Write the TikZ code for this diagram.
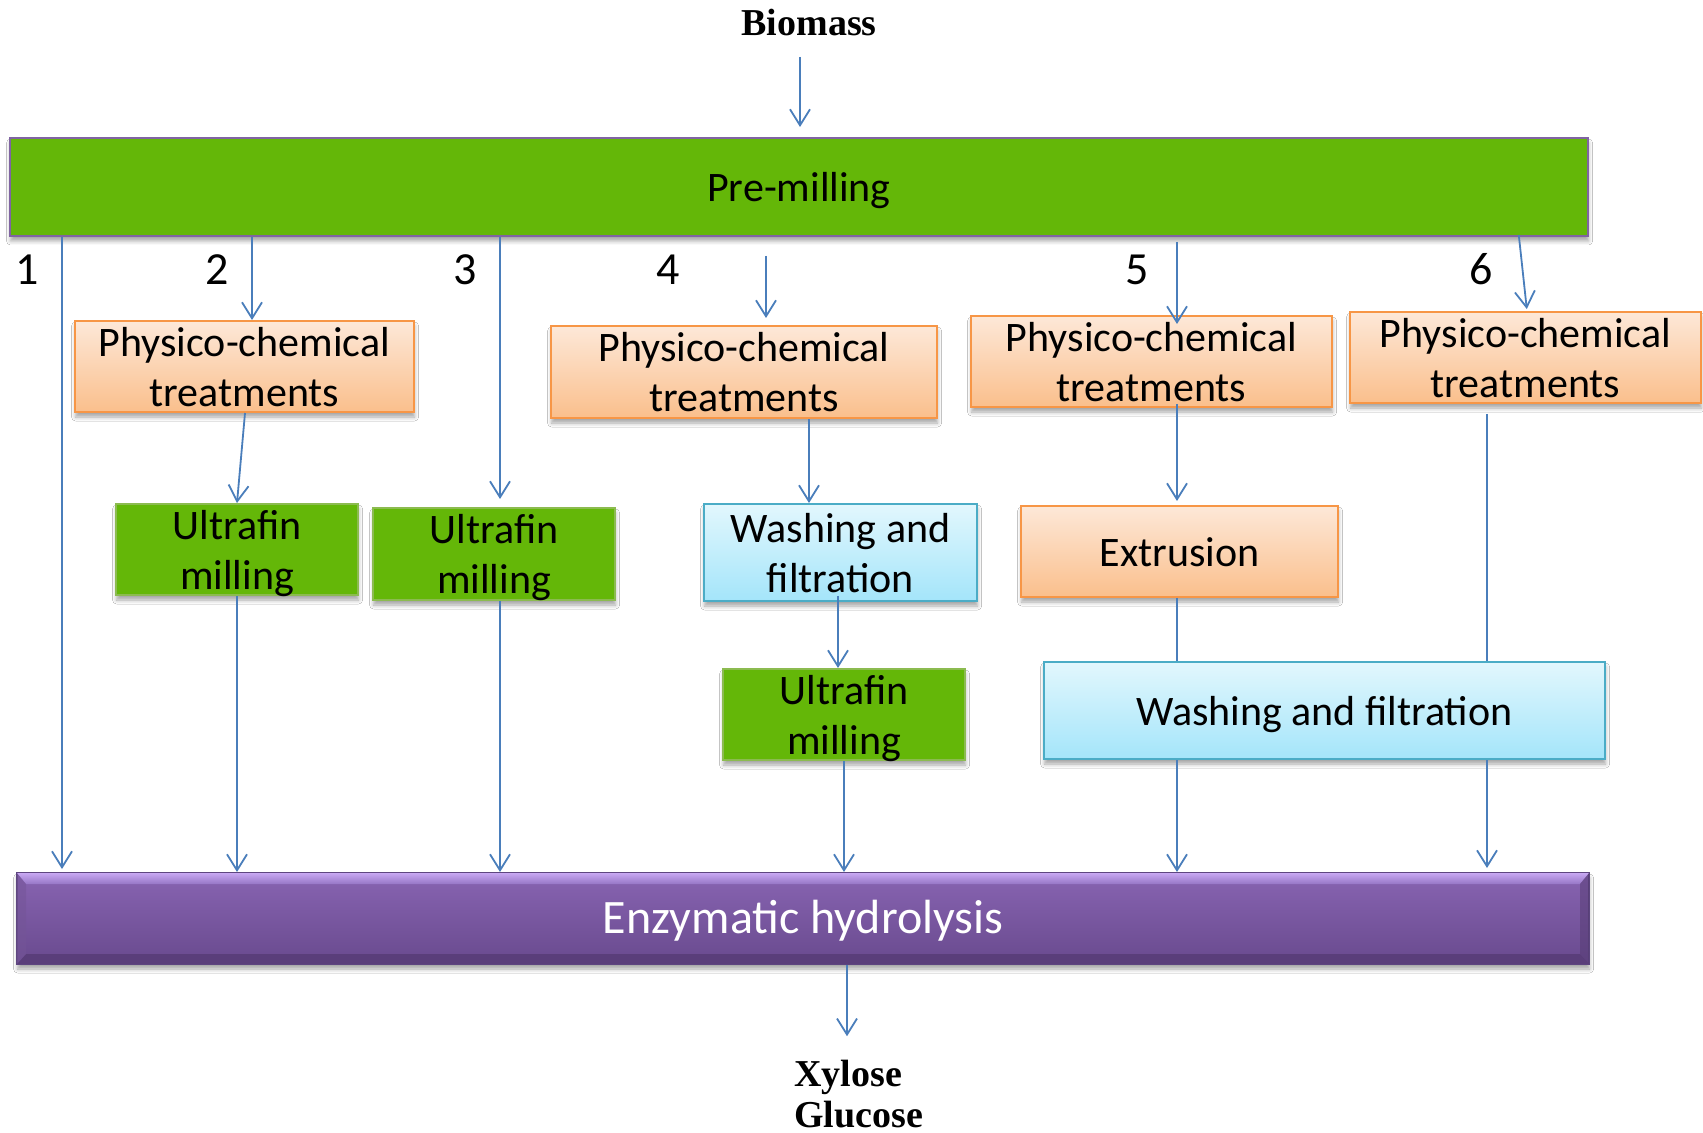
\documentclass[tikz,border=0pt]{standalone}
\usepackage{fontspec}
\setmainfont{Carlito}
\newfontfamily\labelserif{Liberation Serif}
\usetikzlibrary{arrows.meta,shadows.blur,calc}

\definecolor{flowblue}{HTML}{4A7EBB}
\definecolor{millgreen}{HTML}{64B708}
\definecolor{millgreenborder}{HTML}{8CBB50}
\definecolor{premillborder}{HTML}{8064A2}
\definecolor{orangetop}{HTML}{FDE8D8}
\definecolor{orangebottom}{HTML}{FABF8C}
\definecolor{orangeborder}{HTML}{F79646}
\definecolor{bluetop}{HTML}{E2F7FD}
\definecolor{bluebottom}{HTML}{A4E5FA}
\definecolor{blueborder}{HTML}{4BACC6}
\definecolor{hydrotop}{HTML}{8864B2}
\definecolor{hydrobottom}{HTML}{694A8E}
\definecolor{hydroborder}{HTML}{5E4680}
\definecolor{bevellight}{HTML}{C8A8F2}
\definecolor{bevelmid}{HTML}{9676C6}
\definecolor{beveldark}{HTML}{5A3E7A}

% struts fixing the height of the first line and the depth of the last one
\newcommand{\firststrut}{\rule{0pt}{19.5pt}}
\newcommand{\laststrut}{\rule[-4.5pt]{0pt}{0pt}}
\newcommand{\boxtext}[1]{\firststrut#1\laststrut}
\newcommand{\twolines}[2]{\firststrut#1\\#2\laststrut}

\begin{document}
\begin{tikzpicture}[x=0.5pt,y=-0.5pt,
  boxbase/.style={draw, line width=1pt, inner xsep=0pt, inner ysep=-3pt, align=center,
    font=\fontsize{21}{25}\selectfont,
    blur shadow={shadow xshift=0.3pt, shadow yshift=-2.5pt,
      shadow blur radius=2pt, shadow opacity=35}},
  greenbox/.style={boxbase, fill=millgreen, draw=millgreenborder},
  orangebox/.style={boxbase, draw=orangeborder, top color=orangetop, bottom color=orangebottom},
  bluebox/.style={boxbase, draw=blueborder, top color=bluetop, bottom color=bluebottom},
  flow/.style={draw=flowblue, line width=0.9pt},
  flowarrow/.style={flow, -{Straight Barb[length=8pt,width=10pt]}},
  serifbold/.style={inner sep=0pt, font=\labelserif\bfseries\fontsize{19}{23}\selectfont},
  routenum/.style={inner sep=0pt, anchor=base, font=\fontsize{23}{28}\selectfont}
]
\fill[white] (0,0) rectangle (1703,1133);
\useasboundingbox (0,0) rectangle (1703,1133);

% input and output labels
\node[serifbold, anchor=base] (biomass) at (809,36) {Biomass};
\node[serifbold, anchor=base west] (xylose) at (794,1086) {Xylose};
\node[serifbold, anchor=base west] (glucose) at (794,1127) {Glucose};

% common first and last stages
\node[boxbase, fill=millgreen, draw=premillborder, minimum width=789pt, minimum height=49pt]
  (premill) at (799,187) {\boxtext{Pre-milling}};
\node[boxbase, draw=hydroborder, top color=hydrotop, bottom color=hydrobottom,
  minimum width=786pt, minimum height=45.5pt]
  (eh) at (803,918.5) {};
% bevel of the hydrolysis bar
\shade[top color=bevellight, bottom color=bevelmid] (17,873) -- (1589,873) -- (1580,884) -- (26,884) -- cycle;
\fill[beveldark] (26,954) -- (1580,954) -- (1589,964) -- (17,964) -- cycle;
\fill[hydrotop!85!black, opacity=0.5] (17,873) -- (26,884) -- (26,954) -- (17,964) -- cycle;
\fill[hydrobottom!80!black, opacity=0.5] (1589,873) -- (1580,884) -- (1580,954) -- (1589,964) -- cycle;
\node[text=white, font=\fontsize{24}{28}\selectfont, inner sep=0pt]
  (ehtext) at (eh.center) {\boxtext{Enzymatic hydrolysis}};

% route numbers
\node[routenum] (n1) at (27,285) {1};
\node[routenum] (n2) at (217,285) {2};
\node[routenum] (n3) at (465,285) {3};
\node[routenum] (n4) at (668,285) {4};
\node[routenum] (n5) at (1137,285) {5};
\node[routenum] (n6) at (1481,285) {6};

% route 2
\node[orangebox, minimum width=169.5pt, minimum height=45.5pt] (pc2) at (244.5,366.5) {\twolines{Physico-chemical}{treatments}};
\node[greenbox, minimum width=121pt, minimum height=45.5pt] (uf2) at (237,549.5) {\twolines{Ultrafin}{milling}};
% route 3
\node[greenbox, minimum width=121pt, minimum height=46pt] (uf3) at (494,554) {\twolines{Ultrafin}{milling}};
% route 4
\node[orangebox, minimum width=193pt, minimum height=46pt] (pc4) at (744,372) {\twolines{Physico-chemical}{treatments}};
\node[bluebox, minimum width=136.5pt, minimum height=48.5pt] (wf4) at (840.5,552.5) {\twolines{Washing and}{filtration}};
\node[greenbox, minimum width=121pt, minimum height=45.5pt] (uf4) at (844,714.5) {\twolines{Ultrafin}{milling}};
% route 5
\node[orangebox, minimum width=180.5pt, minimum height=45.5pt] (pc5) at (1151.5,361.5) {\twolines{Physico-chemical}{treatments}};
\node[orangebox, minimum width=158.5pt, minimum height=45.5pt] (ex) at (1179.5,551.5) {\boxtext{Extrusion}};
% route 6
\node[orangebox, minimum width=175.5pt, minimum height=45.5pt] (pc6) at (1525.5,357.5) {\twolines{Physico-chemical}{treatments}};
% shared by routes 5 and 6
\node[bluebox, minimum width=280.5pt, minimum height=48.5pt] (wfb) at (1324.5,710.5) {\boxtext{Washing and filtration}};

% connectors
\draw[flowarrow, shorten <=10pt, shorten >=5pt] (biomass.south -| 800,0) -- (premill.north -| 800,0);
\draw[flowarrow, shorten >=1.5pt] (premill.south -| 62,0) -- (eh.north -| 62,0);

\draw[flowarrow] (premill.south -| 252,0) -- (pc2.north -| 252,0);
\draw[flowarrow] (pc2.south -| 245,0) -- (uf2.north -| 237,0);
\draw[flowarrow] (uf2.south) -- (eh.north -| uf2.south);

\draw[flowarrow, shorten >=4pt] (premill.south -| 500,0) -- (uf3.north -| 500,0);
\draw[flowarrow] (uf3.south -| 500,0) -- (eh.north -| 500,0);

\draw[flowarrow, shorten <=9.5pt, shorten >=3.5pt] (premill.south -| 766,0) -- (pc4.north -| 766,0);
\draw[flowarrow] (pc4.south -| 809,0) -- (wf4.north -| 809,0);
\draw[flowarrow, shorten <=-3pt] (wf4.south -| 838,0) -- (uf4.north -| 838,0);
\draw[flowarrow] (uf4.south) -- (eh.north -| uf4.south);

\draw[flowarrow, shorten <=2.5pt, shorten >=-4.5pt] (premill.south -| 1177,0) -- (pc5.north -| 1177,0);
\draw[flowarrow, shorten <=-2pt, shorten >=2pt] (pc5.south -| 1177,0) -- (ex.north -| 1177,0);
\draw[flow] (ex.south -| 1177,0) -- (wfb.north -| 1177,0);
\draw[flowarrow] (wfb.south -| 1177,0) -- (eh.north -| 1177,0);

\draw[flowarrow, shorten <=-1pt, shorten >=1pt] (premill.south -| 1519,0) -- (pc6.north -| 1527,0);
\draw[flow, shorten <=5pt] (pc6.south -| 1487,0) -- (wfb.north -| 1487,0);
\draw[flowarrow, shorten >=2pt] (wfb.south -| 1487,0) -- (eh.north -| 1487,0);

\draw[flowarrow, shorten >=11.5pt] (eh.south -| 847,0) -- (xylose.north -| 847,0);
\end{tikzpicture}
\end{document}
